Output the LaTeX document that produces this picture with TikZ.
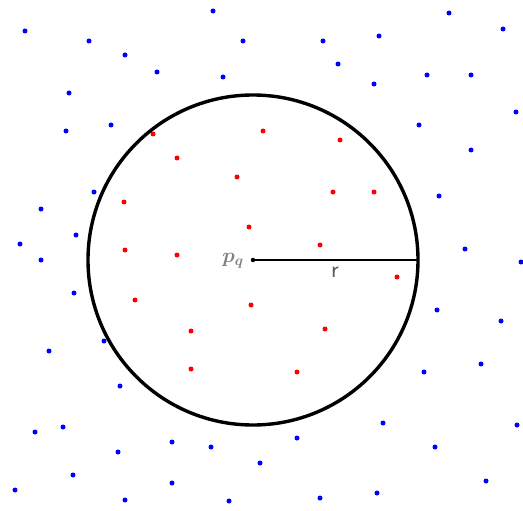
\documentclass[tikz,border=0pt]{standalone}
\usepackage{amsmath}
\usepackage{bm}
\begin{document}
\begin{tikzpicture}[
    x=1pt,y=-1pt,
    every node/.style={font=\small},
    pt/.style={circle, inner sep=0pt, minimum size=5pt},
    outside/.style={pt, fill=blue},
    inside/.style={pt, fill=red},
    query/.style={pt, fill=black, minimum size=4.5pt},
    qdisk/.style={circle, draw=black, line width=3.4pt, inner sep=0pt, outer sep=0pt, minimum size=330pt},
    rline/.style={draw=black, line width=1.3pt}
]
    \useasboundingbox (0,0) rectangle (523,511);

    % points outside the query range
    \foreach \px/\py [count=\i] in {25/31, 89/41, 125/55, 157/72, 213/11, 243/41, 223/77,
        323/41, 338/64, 379/36, 374/84, 449/13, 503/29, 427/75, 471/75, 516/112,
        69/93, 111/125, 66/131, 419/125, 471/150, 94/192, 439/196, 41/209, 76/235,
        20/244, 465/249, 41/260, 521/262, 74/293, 437/310, 501/321, 104/341, 49/351,
        481/364, 424/372, 120/386, 383/423, 517/425, 63/427, 35/432, 297/438, 435/447,
        211/447, 172/442, 118/452, 260/463, 73/475, 486/481, 172/483, 15/490, 377/493,
        125/500, 229/501, 320/498}
        \node[outside] (b\i) at (\px,\py) {};

    % points inside the query range
    \foreach \px/\py [count=\i] in {153/134, 263/131, 177/158, 340/140, 237/177, 124/202,
        333/192, 374/192, 249/227, 125/250, 177/255, 320/245, 397/277, 135/300,
        251/305, 191/331, 325/329, 191/369, 297/372}
        \node[inside] (r\i) at (\px,\py) {};

    \node[query] (pq) at (253,260) {};
    \node[qdisk] (disk) at (pq) {};
    \draw[rline] (pq.center) -- (disk.east);

    \node[text=gray, font=\fontsize{22}{26}\selectfont, anchor=base east, inner sep=0pt] (pqlabel) at ([xshift=-9pt,yshift=-2pt]pq.center) {$\bm{p_q}$};
    \node[text=gray!70!black, font=\fontsize{24}{28}\selectfont\sffamily, anchor=base, inner sep=0pt] (rlabel) at (335,277) {r};
\end{tikzpicture}
\end{document}
